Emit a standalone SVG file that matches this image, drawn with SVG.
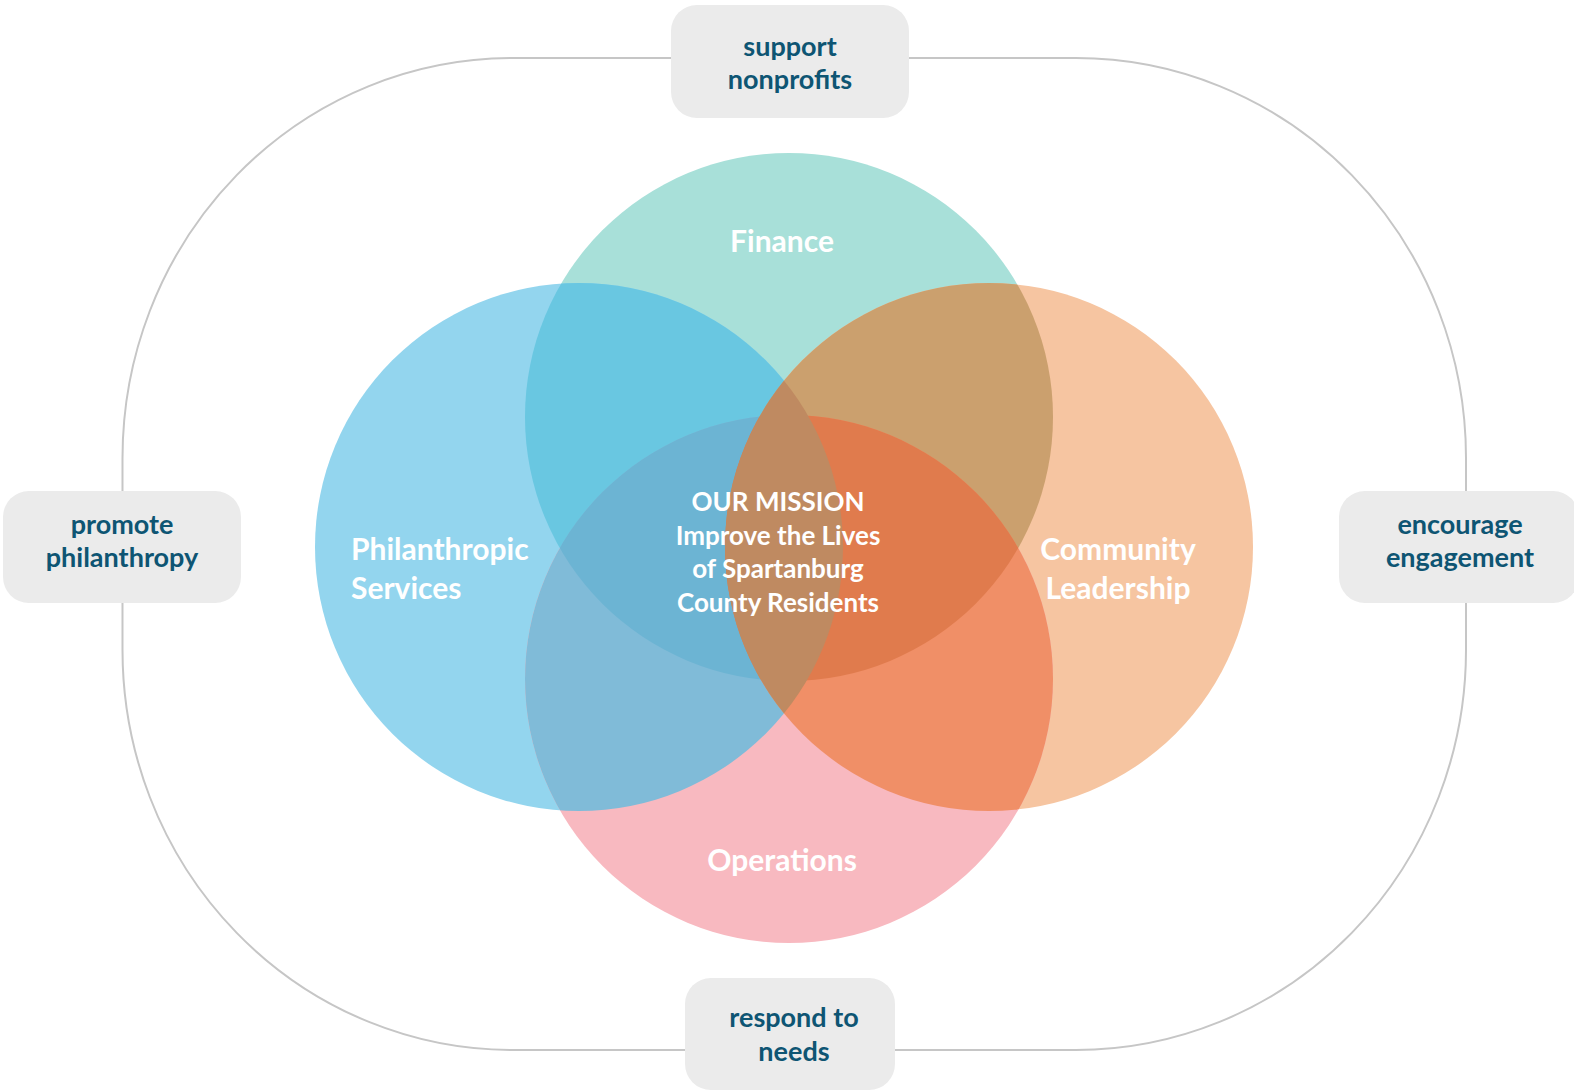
<svg xmlns="http://www.w3.org/2000/svg" width="1574" height="1092" viewBox="0 0 1574 1092">
<style>
.box{fill:#ebebeb;}
.btxt{font-family:Lato,"Liberation Sans",sans-serif;font-weight:bold;font-size:27px;fill:#0e5573;text-anchor:middle;}
.ctxt{font-family:Lato,"Liberation Sans",sans-serif;font-weight:bold;font-size:30px;fill:#ffffff;}
.mtxt{font-family:Lato,"Liberation Sans",sans-serif;font-weight:bold;font-size:26px;fill:#ffffff;text-anchor:middle;}
.ring{fill:none;stroke:#c6c6c6;stroke-width:2;}
</style>
<defs>
<clipPath id="cF"><circle cx="789" cy="417" r="264"/></clipPath>
<clipPath id="cP"><circle cx="579" cy="547" r="264"/></clipPath>
<clipPath id="cC"><circle cx="989" cy="547" r="264"/></clipPath>
<clipPath id="cO"><circle cx="789" cy="679" r="264"/></clipPath>
</defs>
<rect width="1574" height="1092" fill="#ffffff"/>
<g id="connectors">
<path class="ring" d="M512.5,58 H1076 A390,400 0 0 1 1466,458 V650 A390,400 0 0 1 1076,1050 H512.5 A390,400 0 0 1 122.5,650 V458 A390,400 0 0 1 512.5,58 Z"/>
</g>
<g id="venn">
<circle id="finance-circle" cx="789" cy="417" r="264" fill="#a8e0d9"/>
<circle id="philanthropic-circle" cx="579" cy="547" r="264" fill="#93d5ee"/>
<circle id="community-circle" cx="989" cy="547" r="264" fill="#f6c5a1"/>
<circle id="operations-circle" cx="789" cy="679" r="264" fill="#f8b9c0"/>
<circle cx="579" cy="547" r="264" fill="#69c7e1" clip-path="url(#cF)"/>
<circle cx="989" cy="547" r="264" fill="#cba06e" clip-path="url(#cF)"/>
<circle cx="579" cy="547" r="264" fill="#80bbd8" clip-path="url(#cO)"/>
<circle cx="989" cy="547" r="264" fill="#f08f67" clip-path="url(#cO)"/>
<g clip-path="url(#cF)"><circle cx="579" cy="547" r="264" fill="#6cb4d3" clip-path="url(#cO)"/></g>
<g clip-path="url(#cF)"><circle cx="989" cy="547" r="264" fill="#e07b4d" clip-path="url(#cO)"/></g>
<circle cx="989" cy="547" r="264" fill="#bf8a61" clip-path="url(#cP)"/>
</g>
<g id="finance"><text class="ctxt" x="782" y="252" text-anchor="middle">Finance</text></g>
<g id="philanthropic-services"><text class="ctxt" x="351" y="560">Philanthropic</text><text class="ctxt" x="351" y="599">Services</text></g>
<g id="community-leadership"><text class="ctxt" x="1118" y="560" text-anchor="middle">Community</text><text class="ctxt" x="1118" y="599" text-anchor="middle">Leadership</text></g>
<g id="operations"><text class="ctxt" x="782" y="871" text-anchor="middle">Operations</text></g>
<g id="mission">
<text class="mtxt" x="778" y="511">OUR MISSION</text>
<text class="mtxt" x="778" y="545">Improve the Lives</text>
<text class="mtxt" x="778" y="578">of Spartanburg</text>
<text class="mtxt" x="778" y="612">County Residents</text>
</g>
<g id="support-nonprofits"><rect class="box" x="671" y="5" width="238" height="113" rx="26"/><text class="btxt" x="790" y="56">support</text><text class="btxt" x="790" y="89">nonprofits</text></g>
<g id="promote-philanthropy"><rect class="box" x="3" y="491" width="238" height="112" rx="26"/><text class="btxt" x="122" y="534">promote</text><text class="btxt" x="122" y="567">philanthropy</text></g>
<g id="encourage-engagement"><rect class="box" x="1339" y="491" width="240" height="112" rx="26"/><text class="btxt" x="1460" y="534">encourage</text><text class="btxt" x="1460" y="567">engagement</text></g>
<g id="respond-to-needs"><rect class="box" x="685" y="978" width="210" height="112" rx="26"/><text class="btxt" x="794" y="1027">respond to</text><text class="btxt" x="794" y="1061">needs</text></g>
</svg>
